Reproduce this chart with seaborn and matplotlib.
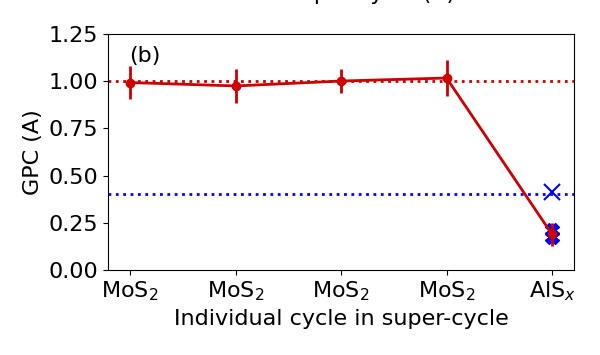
import numpy as np
import pandas as pd
import seaborn as sns
import matplotlib.pyplot as plt

sns.set_style("ticks")
plt.rcParams["font.family"] = ["DejaVu Sans"]
plt.rcParams["text.color"] = "black"
plt.rcParams["axes.labelcolor"] = "black"
plt.rcParams["xtick.color"] = "black"
plt.rcParams["ytick.color"] = "black"
plt.rcParams["axes.edgecolor"] = "black"

# data
cycles = ["MoS$_2$", "MoS$_2$", "MoS$_2$", "MoS$_2$", "AlS$_x$"]
gpc = [0.993, 0.975, 1.001, 1.017, 0.188]
gpc_err = [0.087, 0.090, 0.066, 0.093, 0.060]
ref_mos2 = 1.0
ref_als = 0.40
als_other_x = [4, 4]
als_other = [0.21, 0.175]
als_cross = 0.415

red = "#cc0000"
blue = "#0000ff"

df = pd.DataFrame({"pos": np.arange(len(cycles)), "gpc": gpc, "err": gpc_err})

fig, ax = plt.subplots(figsize=(6, 3.55), dpi=100)

ax.axhline(ref_mos2, color=red, ls=":", lw=2)
ax.axhline(ref_als, color=blue, ls=":", lw=2)

ax.plot(als_other_x, als_other, ls="none", marker="X", ms=10, color=blue)
ax.plot([4], [als_cross], ls="none", marker="x", ms=11, mew=1.5, color=blue)

sns.lineplot(data=df, x="pos", y="gpc", color=red, lw=2, ax=ax)
ax.errorbar(df["pos"], df["gpc"], yerr=df["err"], fmt="o", ms=6,
            color=red, elinewidth=2, capsize=0)

ax.set_xticks(df["pos"])
ax.set_xticklabels(cycles)
ax.set_xlim(-0.21, 4.21)
ax.set_ylim(0, 1.25)
ax.set_yticks([0, 0.25, 0.5, 0.75, 1.0, 1.25])
ax.tick_params(labelsize=16)
ax.set_xlabel("Individual cycle in super-cycle", fontsize=16)
ax.set_ylabel("GPC (A)", fontsize=16)
ax.text(0.045, 0.95, "(b)", transform=ax.transAxes, fontsize=16, va="top")

# title sits mostly above the canvas in the reference, only descenders show
fig.text(0.568, 1.0, "Growth per cycle (A)", ha="center", va="baseline", fontsize=16)

fig.subplots_adjust(left=0.18, right=0.957, top=0.904, bottom=0.24)
fig.savefig("out.png", dpi=100)
